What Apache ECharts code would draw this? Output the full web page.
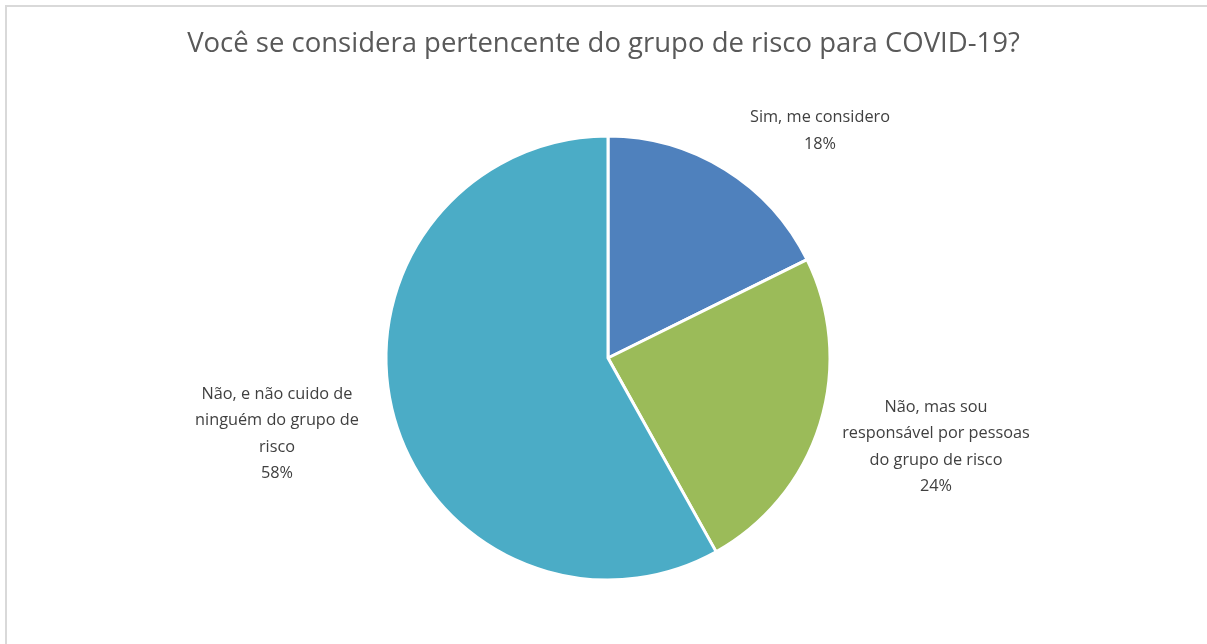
<!DOCTYPE html>
<html>
<head>
<meta charset="utf-8">
<script src="https://cdn.jsdelivr.net/npm/echarts@6/dist/echarts.min.js"></script>
<style>
  html, body { margin: 0; padding: 0; background: #fff; }
  #chart { width: 1207px; height: 644px; }
</style>
</head>
<body>
<div id="chart"></div>
<script>
// data
var titleText = 'Você se considera pertencente do grupo de risco para COVID-19?';
var categories = [
  'Sim, me considero',
  'Não, mas sou\nresponsável por pessoas\ndo grupo de risco',
  'Não, e não cuido de\nninguém do grupo de\nrisco'
];
var shares = [17.7, 24.2, 58.1];
var colors = ['#4f81bd', '#9bbb59', '#4bacc6'];

// where the labels sit (label centre, px)
var labelPos = [[820, 131], [936, 447], [277, 434]];

var chart = echarts.init(document.getElementById('chart'));

var option = {
  backgroundColor: '#fff',
  animation: false,
  title: {
    text: titleText,
    left: 'center',
    top: 25,
    textStyle: {
      fontFamily: 'Open Sans',
      fontSize: 27.5,
      fontWeight: 'normal',
      color: '#595959'
    }
  },
  graphic: [{
    type: 'rect',
    shape: { x: 6, y: 6, width: 1230, height: 700 },
    style: { fill: 'none', stroke: '#d9d9d9', lineWidth: 2 },
    silent: true
  }],
  series: [{
    type: 'pie',
    center: [608, 358],
    radius: 222,
    startAngle: 90,
    clockwise: true,
    percentPrecision: 0,
    data: categories.map(function (c, i) {
      return { name: c, value: shares[i], itemStyle: { color: colors[i] } };
    }),
    itemStyle: { borderColor: '#fff', borderWidth: 3 },
    label: {
      show: true,
      position: 'outside',
      formatter: '{b}\n{d}%',
      fontFamily: 'Open Sans',
      fontSize: 16.3,
      lineHeight: 26.5,
      color: '#404040',
      align: 'center'
    },
    labelLine: { show: false },
    labelLayout: function (p) {
      var pos = labelPos[p.dataIndex];
      return { x: pos[0], y: pos[1], align: 'center', verticalAlign: 'middle' };
    },
    emphasis: { disabled: true }
  }]
};

chart.setOption(option);
</script>
</body>
</html>
